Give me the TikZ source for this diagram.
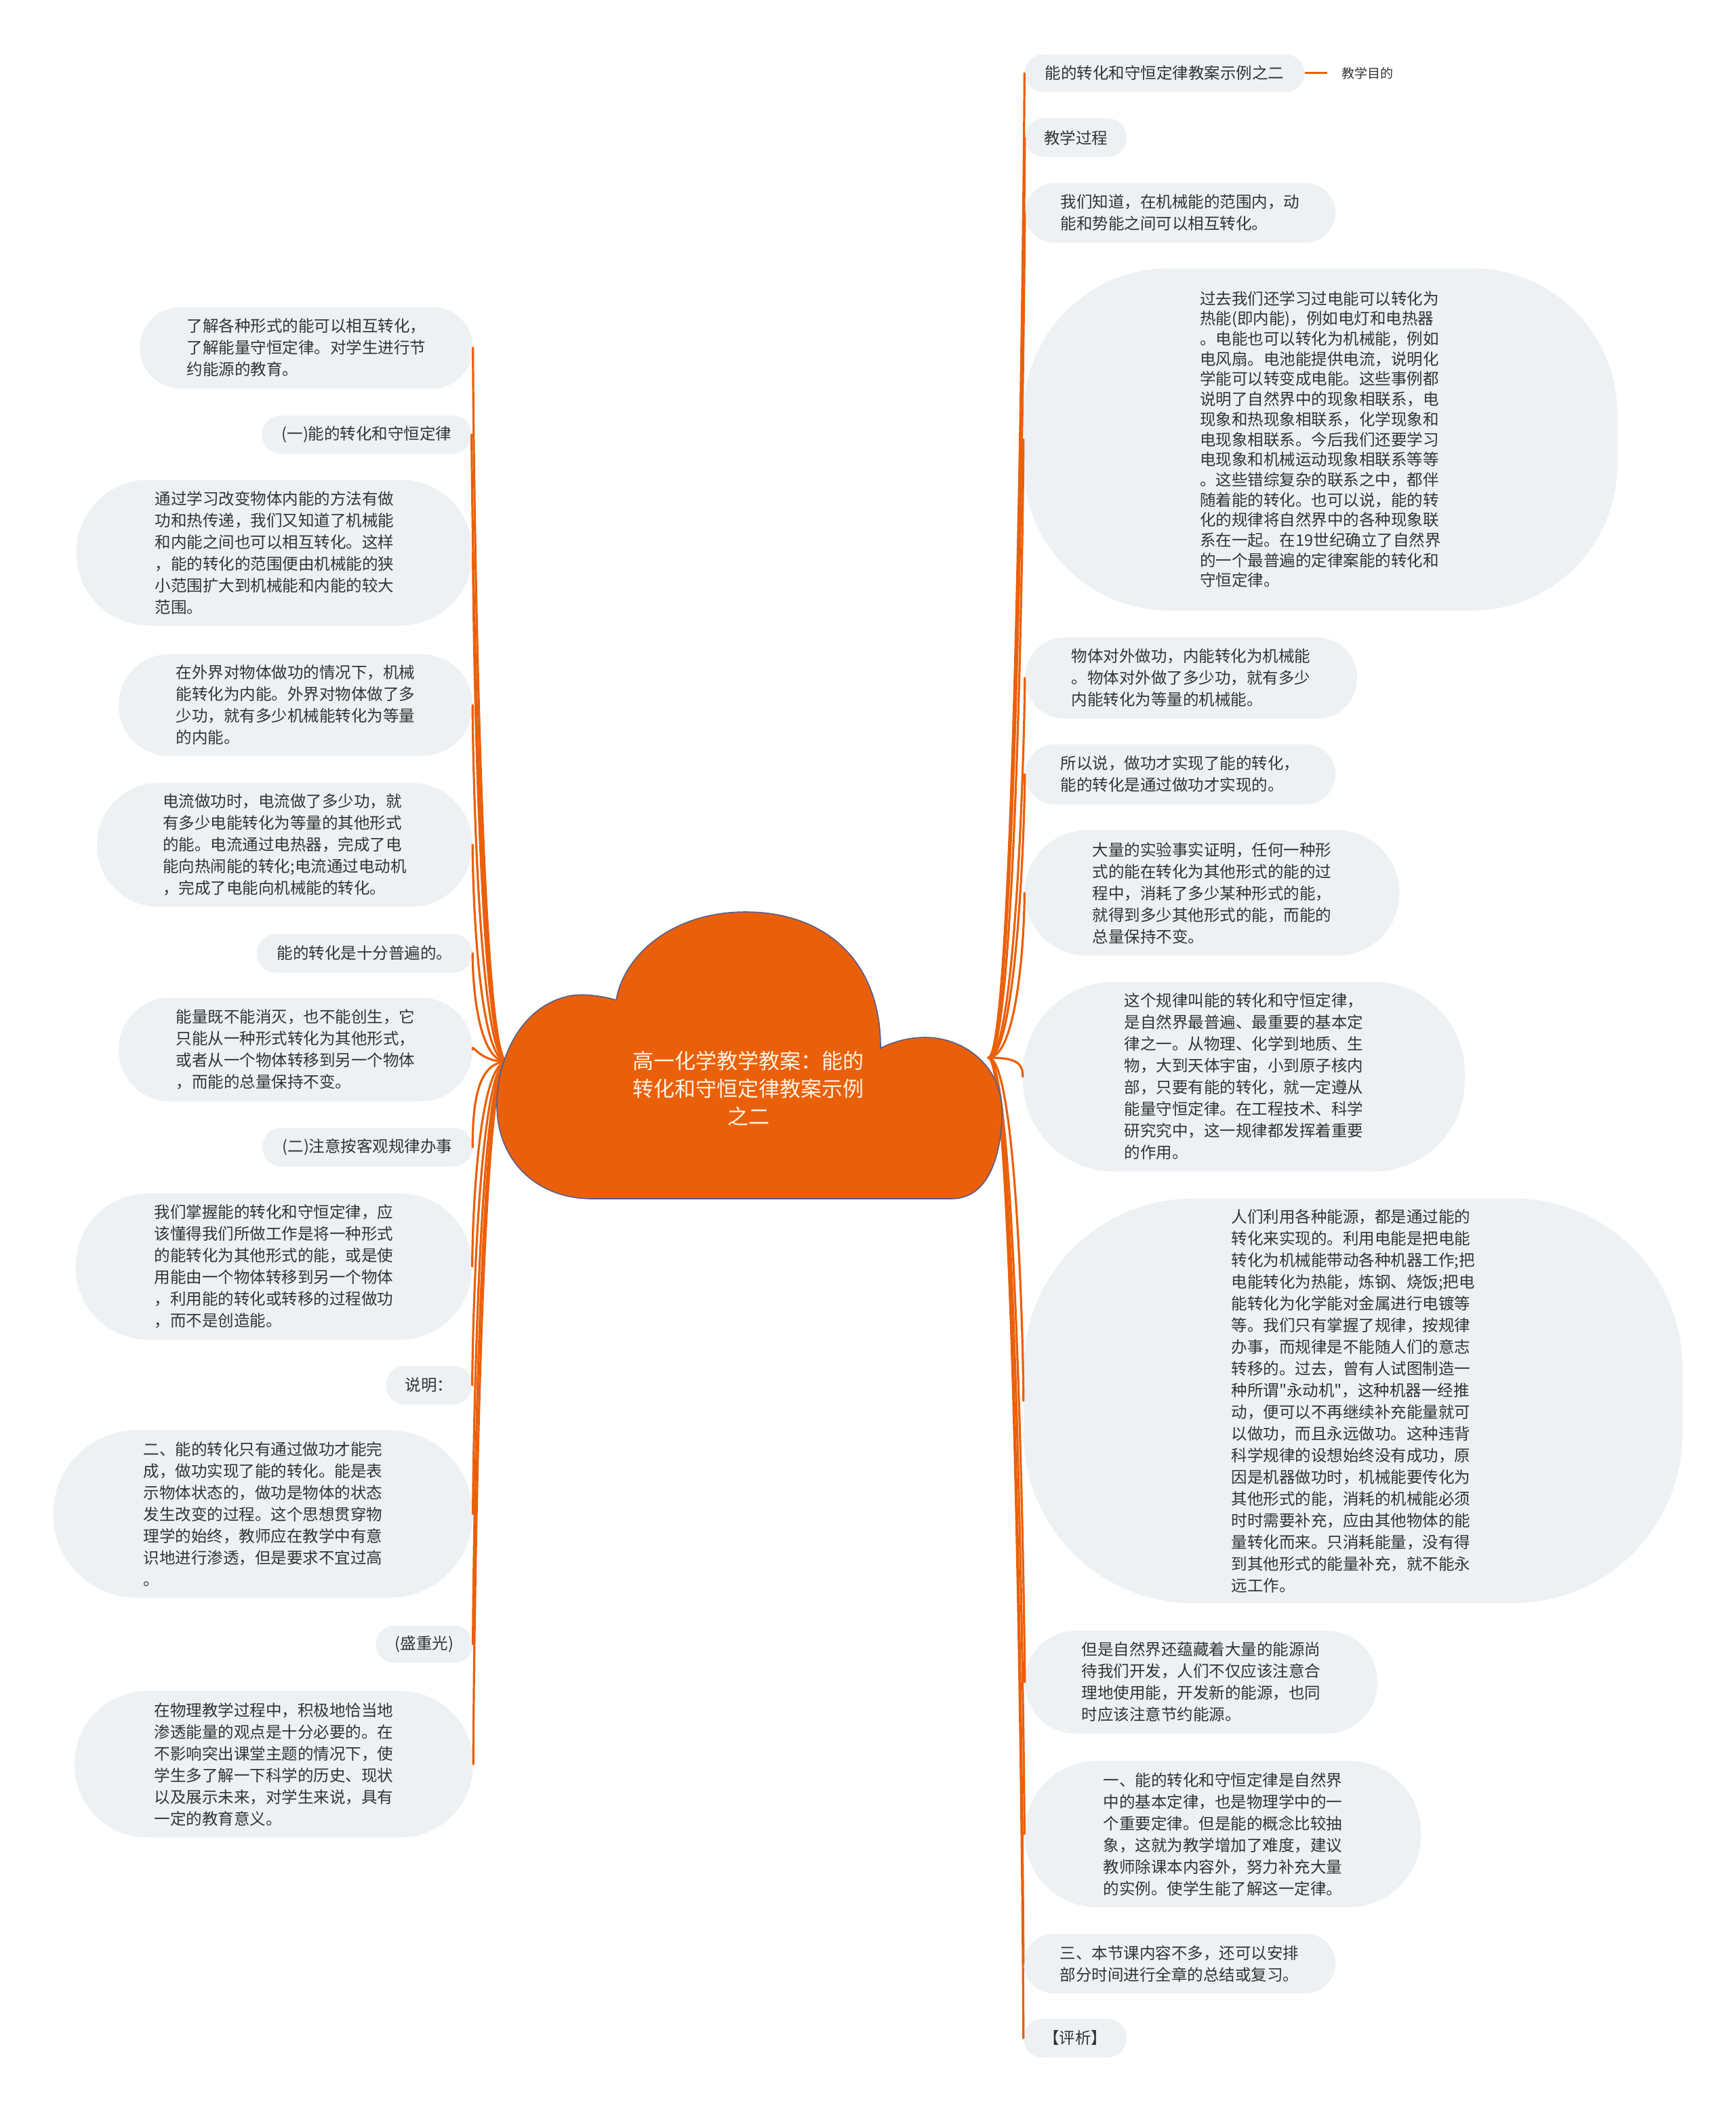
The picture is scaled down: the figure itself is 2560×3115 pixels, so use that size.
\documentclass[tikz,border=0pt]{standalone}
\usepackage{fontspec}
\newfontfamily\cjk{Noto Sans CJK SC}
\definecolor{cloudorange}{RGB}{234,96,10}
\definecolor{cloudline}{RGB}{84,94,140}
\definecolor{bubblegray}{RGB}{238,241,244}
\definecolor{inkgray}{RGB}{51,51,51}
\definecolor{creamtext}{RGB}{255,244,228}
\tikzset{
  bubble/.style={fill=bubblegray,text=inkgray,align=left,inner sep=0pt,
    font=\cjk\fontsize{23.5}{32}\selectfont},
  branch/.style={draw=cloudorange,line width=3.2pt,line cap=round},
}
\begin{document}
\begin{tikzpicture}[x=1pt,y=-1pt]
  \useasboundingbox (0,0) rectangle (2560,3115);
  % left side
  \node[bubble,minimum width=491pt,minimum height=120pt,rounded corners=59pt] (aim) at (452,513) {了解各种形式的能可以相互转化，\\了解能量守恒定律。对学生进行节\\约能源的教育。};
  \node[bubble,minimum width=309pt,minimum height=57pt,rounded corners=28pt] (partone) at (541,641) {(一)能的转化和守恒定律};
  \node[bubble,minimum width=585pt,minimum height=215pt,rounded corners=107pt] (internal) at (405,815) {通过学习改变物体内能的方法有做\\功和热传递，我们又知道了机械能\\和内能之间也可以相互转化。这样\\，能的转化的范围便由机械能的狭\\小范围扩大到机械能和内能的较大\\范围。};
  \node[bubble,minimum width=522pt,minimum height=150pt,rounded corners=74pt] (outside) at (436,1040) {在外界对物体做功的情况下，机械\\能转化为内能。外界对物体做了多\\少功，就有多少机械能转化为等量\\的内能。};
  \node[bubble,minimum width=554pt,minimum height=183pt,rounded corners=91pt] (current) at (420,1246) {电流做功时，电流做了多少功，就\\有多少电能转化为等量的其他形式\\的能。电流通过电热器，完成了电\\能向热闹能的转化;电流通过电动机\\，完成了电能向机械能的转化。};
  \node[bubble,minimum width=318pt,minimum height=57pt,rounded corners=28pt] (common) at (538,1406) {能的转化是十分普遍的。};
  \node[bubble,minimum width=522pt,minimum height=153pt,rounded corners=76pt] (conserve) at (436,1548) {能量既不能消灭，也不能创生，它\\只能从一种形式转化为其他形式，\\或者从一个物体转移到另一个物体\\，而能的总量保持不变。};
  \node[bubble,minimum width=310pt,minimum height=57pt,rounded corners=28pt] (parttwo) at (542,1692) {(二)注意按客观规律办事};
  \node[bubble,minimum width=585pt,minimum height=216pt,rounded corners=107pt] (master) at (404,1868) {我们掌握能的转化和守恒定律，应\\该懂得我们所做工作是将一种形式\\的能转化为其他形式的能，或是使\\用能由一个物体转移到另一个物体\\，利用能的转化或转移的过程做功\\，而不是创造能。};
  \node[bubble,minimum width=127pt,minimum height=57pt,rounded corners=28pt] (note) at (633,2043) {说明：};
  \node[bubble,minimum width=619pt,minimum height=247pt,rounded corners=123pt] (workdone) at (388,2233) {二、能的转化只有通过做功才能完\\成，做功实现了能的转化。能是表\\示物体状态的，做功是物体的状态\\发生改变的过程。这个思想贯穿物\\理学的始终，教师应在教学中有意\\识地进行渗透，但是要求不宜过高\\。};
  \node[bubble,minimum width=143pt,minimum height=55pt,rounded corners=27pt] (author) at (626,2425) {(盛重光)};
  \node[bubble,minimum width=588pt,minimum height=216pt,rounded corners=107pt] (meaning) at (404,2602) {在物理教学过程中，积极地恰当地\\渗透能量的观点是十分必要的。在\\不影响突出课堂主题的情况下，使\\学生多了解一下科学的历史、现状\\以及展示未来，对学生来说，具有\\一定的教育意义。};
  % right side
  \node[bubble,minimum width=413pt,minimum height=55pt,rounded corners=27pt] (title) at (1718,108) {能的转化和守恒定律教案示例之二};
  \node[text=inkgray,font=\cjk\fontsize{19}{24}\selectfont,inner xsep=21pt,anchor=west] (target) at (1958,108) {教学目的};
  \node[bubble,minimum width=150pt,minimum height=57pt,rounded corners=28pt] (process) at (1587,203) {教学过程};
  \node[bubble,minimum width=458pt,minimum height=88pt,rounded corners=44pt] (mech) at (1741,314) {我们知道，在机械能的范围内，动\\能和势能之间可以相互转化。};
  \node[bubble,minimum width=876pt,minimum height=505pt,rounded corners=215pt,font=\cjk\fontsize{23.5}{29.7}\selectfont] (electric) at (1948,648) {过去我们还学习过电能可以转化为\\热能(即内能)，例如电灯和电热器\\。电能也可以转化为机械能，例如\\电风扇。电池能提供电流，说明化\\学能可以转变成电能。这些事例都\\说明了自然界中的现象相联系，电\\现象和热现象相联系，化学现象和\\电现象相联系。今后我们还要学习\\电现象和机械运动现象相联系等等\\。这些错综复杂的联系之中，都伴\\随着能的转化。也可以说，能的转\\化的规律将自然界中的各种现象联\\系在一起。在19世纪确立了自然界\\的一个最普遍的定律案能的转化和\\守恒定律。};
  \node[bubble,minimum width=490pt,minimum height=120pt,rounded corners=59pt] (outwork) at (1757,1000) {物体对外做功，内能转化为机械能\\。物体对外做了多少功，就有多少\\内能转化为等量的机械能。};
  \node[bubble,minimum width=458pt,minimum height=89pt,rounded corners=44pt] (sowork) at (1741,1142) {所以说，做功才实现了能的转化，\\能的转化是通过做功才实现的。};
  \node[bubble,minimum width=553pt,minimum height=185pt,rounded corners=92pt] (experiment) at (1788,1317) {大量的实验事实证明，任何一种形\\式的能在转化为其他形式的能的过\\程中，消耗了多少某种形式的能，\\就得到多少其他形式的能，而能的\\总量保持不变。};
  \node[bubble,minimum width=652pt,minimum height=280pt,rounded corners=135pt] (lawname) at (1835,1588) {这个规律叫能的转化和守恒定律，\\是自然界最普遍、最重要的基本定\\律之一。从物理、化学到地质、生\\物，大到天体宇宙，小到原子核内\\部，只要有能的转化，就一定遵从\\能量守恒定律。在工程技术、科学\\研究究中，这一规律都发挥着重要\\的作用。};
  \node[bubble,minimum width=972pt,minimum height=597pt,rounded corners=250pt] (energyuse) at (1996,2066) {人们利用各种能源，都是通过能的\\转化来实现的。利用电能是把电能\\转化为机械能带动各种机器工作;把\\电能转化为热能，炼钢、烧饭;把电\\能转化为化学能对金属进行电镀等\\等。我们只有掌握了规律，按规律\\办事，而规律是不能随人们的意志\\转移的。过去，曾有人试图制造一\\种所谓"永动机"，这种机器一经推\\动，便可以不再继续补充能量就可\\以做功，而且永远做功。这种违背\\科学规律的设想始终没有成功，原\\因是机器做功时，机械能要传化为\\其他形式的能，消耗的机械能必须\\时时需要补充，应由其他物体的能\\量转化而来。只消耗能量，没有得\\到其他形式的能量补充，就不能永\\远工作。};
  \node[bubble,minimum width=520pt,minimum height=152pt,rounded corners=75pt] (saving) at (1772,2481) {但是自然界还蕴藏着大量的能源尚\\待我们开发，人们不仅应该注意合\\理地使用能，开发新的能源，也同\\时应该注意节约能源。};
  \node[bubble,minimum width=585pt,minimum height=216pt,rounded corners=107pt] (first) at (1804,2705) {一、能的转化和守恒定律是自然界\\中的基本定律，也是物理学中的一\\个重要定律。但是能的概念比较抽\\象，这就为教学增加了难度，建议\\教师除课本内容外，努力补充大量\\的实例。使学生能了解这一定律。};
  \node[bubble,minimum width=460pt,minimum height=88pt,rounded corners=44pt] (third) at (1740,2896) {三、本节课内容不多，还可以安排\\部分时间进行全章的总结或复习。};
  \node[bubble,minimum width=152pt,minimum height=57pt,rounded corners=28pt] (review) at (1586,3006) {【评析】};
  % branches
  \coordinate (lroot) at (748,1566);
  \coordinate (rroot) at (1458,1560);
  \draw[branch] (lroot) .. controls +(-42,0) and +(0,70) .. (aim.east);
  \draw[branch] (lroot) .. controls +(-42,0) and +(0,70) .. (partone.east);
  \draw[branch] (lroot) .. controls +(-42,0) and +(0,70) .. (internal.east);
  \draw[branch] (lroot) .. controls +(-42,0) and +(0,70) .. (outside.east);
  \draw[branch] (lroot) .. controls +(-42,0) and +(0,70) .. (current.east);
  \draw[branch] (lroot) .. controls +(-42,0) and +(0,50) .. (common.east);
  \draw[branch] (lroot) .. controls +(-42,0) and +(0,-10) .. (conserve.east);
  \draw[branch] (lroot) .. controls +(-42,0) and +(0,-70) .. (parttwo.east);
  \draw[branch] (lroot) .. controls +(-42,0) and +(0,-70) .. (master.east);
  \draw[branch] (lroot) .. controls +(-42,0) and +(0,-70) .. (note.east);
  \draw[branch] (lroot) .. controls +(-42,0) and +(0,-70) .. (workdone.east);
  \draw[branch] (lroot) .. controls +(-42,0) and +(0,-70) .. (author.east);
  \draw[branch] (lroot) .. controls +(-42,0) and +(0,-70) .. (meaning.east);
  \draw[branch] (rroot) .. controls +(42,0) and +(0,70) .. (title.west);
  \draw[branch] (rroot) .. controls +(42,0) and +(0,70) .. (process.west);
  \draw[branch] (rroot) .. controls +(42,0) and +(0,70) .. (mech.west);
  \draw[branch] (rroot) .. controls +(42,0) and +(0,70) .. (electric.west);
  \draw[branch] (rroot) .. controls +(42,0) and +(0,70) .. (outwork.west);
  \draw[branch] (rroot) .. controls +(42,0) and +(0,70) .. (sowork.west);
  \draw[branch] (rroot) .. controls +(42,0) and +(0,70) .. (experiment.west);
  \draw[branch] (rroot) .. controls +(42,0) and +(0,-20) .. (lawname.west);
  \draw[branch] (rroot) .. controls +(42,0) and +(0,-70) .. (energyuse.west);
  \draw[branch] (rroot) .. controls +(42,0) and +(0,-70) .. (saving.west);
  \draw[branch] (rroot) .. controls +(42,0) and +(0,-70) .. (first.west);
  \draw[branch] (rroot) .. controls +(42,0) and +(0,-70) .. (third.west);
  \draw[branch] (rroot) .. controls +(42,0) and +(0,-70) .. (review.west);
  \draw[draw=cloudorange,line width=3pt] (title.east) -- (target.west);
  % cloud
  \filldraw[fill=cloudorange,draw=cloudline,line width=1.6pt]
    (873,1768) -- (1404,1768)
    .. controls (1460,1768) and (1478,1700) .. (1478,1640)
    .. controls (1478,1570) and (1420,1530) .. (1365,1530)
    .. controls (1335,1530) and (1310,1540) .. (1299,1546)
    .. controls (1300,1420) and (1220,1345) .. (1100,1345)
    .. controls (990,1345) and (920,1410) .. (909,1475)
    .. controls (885,1468) and (862,1466) .. (845,1468)
    .. controls (770,1480) and (733,1560) .. (733,1630)
    .. controls (733,1710) and (790,1768) .. (873,1768) -- cycle;
  \node[text=creamtext,align=center,font=\cjk\fontsize{31}{41}\selectfont] (topic) at (1104,1605) {高一化学教学教案：能的\\转化和守恒定律教案示例\\之二};
\end{tikzpicture}
\end{document}
